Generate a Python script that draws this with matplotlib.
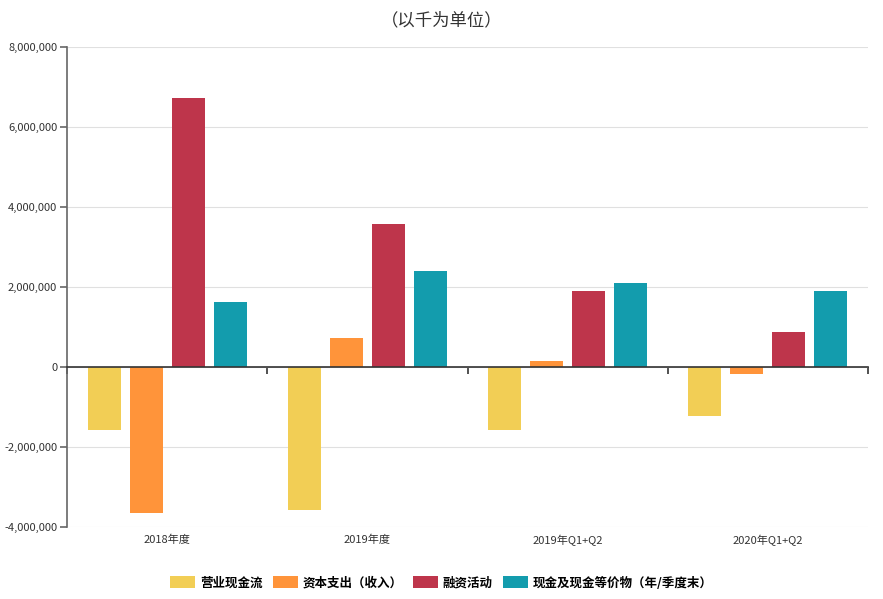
import matplotlib
matplotlib.use("Agg")
import matplotlib.pyplot as plt
from matplotlib.patches import Patch
from matplotlib.ticker import FuncFormatter
import matplotlib.transforms as mtransforms
import numpy as np

plt.rcParams['font.family'] = ['Noto Sans CJK SC', 'DejaVu Sans']

categories = ['2018年度', '2019年度', '2019年Q1+Q2', '2020年Q1+Q2']
series_names = ['营业现金流', '资本支出（收入）', '融资活动', '现金及现金等价物（年/季度末）']
operating = [-1575000, -3570000, -1580000, -1225000]
capex = [-3640000, 725000, 150000, -170000]
financing = [6730000, 3575000, 1900000, 870000]
cash_end = [1625000, 2400000, 2100000, 1900000]
colors = ['#F2CE55', '#FF943A', '#BE354B', '#139CAD']
title = '（以千为单位）'

values = [operating, capex, financing, cash_end]

fig = plt.figure(figsize=(8.83, 5.99), dpi=100)
W, H = 883, 599
ax = fig.add_axes([67 / W, (H - 527) / H, (868 - 67) / W, (527 - 47) / H])

x = np.arange(len(categories)) + 0.5
step = 0.21
width = 0.165
for i, (vals, c) in enumerate(zip(values, colors)):
    ax.bar(x + (i - 1.5) * step, vals, width=width, color=c, zorder=3)

ax.set_xlim(0, len(categories))
ax.set_ylim(-4000000, 8000000)
ax.set_yticks(np.arange(-4000000, 8000001, 2000000))
ax.yaxis.set_major_formatter(FuncFormatter(lambda v, p: f'{int(v):,}'))
ax.grid(axis='y', color='#E0E0E0', linewidth=0.8, zorder=0)

for s in ['top', 'right']:
    ax.spines[s].set_visible(False)
ax.spines['left'].set_color('#666666')
ax.spines['left'].set_linewidth(1.2)
ax.spines['bottom'].set_position(('data', 0))
ax.spines['bottom'].set_color('#333333')
ax.spines['bottom'].set_linewidth(1.2)
ax.spines['bottom'].set_zorder(4)

ax.set_xticks(np.arange(0, len(categories) + 1))
ax.set_xticklabels([])
ax.tick_params(axis='x', direction='out', length=5, color='#333333', width=1.2)
ax.tick_params(axis='y', direction='out', length=5, color='#666666', width=1.2,
               labelsize=8, labelcolor='#333333', pad=2)

offset = mtransforms.ScaledTranslation(0, -8 / 100, fig.dpi_scale_trans)
for xi, lab in zip(x, categories):
    ax.text(xi, -4000000, lab, transform=ax.transData + offset, ha='center', va='top',
            fontsize=8, color='#333333')

fig.text(0.5, 1 - 20 / H, title, ha='center', va='center', fontsize=12.5, color='#333333')

handles = [Patch(facecolor=c, edgecolor='none', label=n) for c, n in zip(colors, series_names)]
fig.legend(handles=handles, loc='center', bbox_to_anchor=(0.5, 1 - 583 / H), ncol=4,
           frameon=False, handlelength=2.0, handleheight=1.1,
           columnspacing=0.8, handletextpad=0.4,
           prop={'size': 9, 'weight': 'bold'})

fig.savefig('out.png', dpi=100)
